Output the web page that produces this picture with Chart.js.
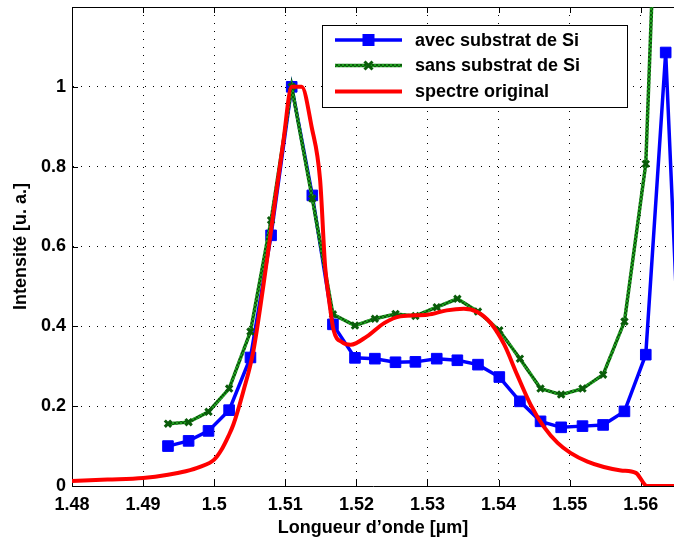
<!DOCTYPE html>
<html>
<head>
<meta charset="utf-8">
<script src="https://cdn.jsdelivr.net/npm/chart.js@4.4.1/dist/chart.umd.min.js"></script>
<style>
  html, body { margin: 0; padding: 0; background: #fff; overflow: hidden; }
  canvas { display: block; }
</style>
</head>
<body>
<canvas id="c" width="674" height="538"></canvas>
<script>
// ---- data ----
const wavelengths = [1.4935, 1.4964, 1.4992, 1.5021, 1.5051, 1.5080, 1.5109, 1.5138, 1.5167, 1.5198,
                     1.5226, 1.5255, 1.5283, 1.5313, 1.5342, 1.5371, 1.5401, 1.5430, 1.5459, 1.5488,
                     1.5518, 1.5547, 1.5577, 1.5607, 1.5635, 1.5665];
const avecSubstrat = [0.100, 0.113, 0.138, 0.190, 0.322, 0.628, 1.000, 0.728, 0.405, 0.321,
                      0.319, 0.310, 0.311, 0.319, 0.315, 0.304, 0.273, 0.212, 0.162, 0.147,
                      0.150, 0.153, 0.187, 0.329, 1.086, -0.13];
const sansSubstrat = [0.156, 0.160, 0.186, 0.244, 0.387, 0.666, 1.000, 0.720, 0.430, 0.402,
                      0.419, 0.431, 0.426, 0.448, 0.469, 0.437, 0.390, 0.319, 0.244, 0.229,
                      0.244, 0.279, 0.412, 0.807, 2.15];
const spectreX = [1.480, 1.485, 1.490, 1.4935, 1.496, 1.498, 1.500, 1.501, 1.502, 1.5027,
                  1.5041, 1.5055, 1.5069, 1.5083, 1.5097, 1.5109, 1.5123, 1.5137, 1.5149, 1.5156,
                  1.5162, 1.5168, 1.518, 1.5192, 1.5215, 1.5239, 1.5262, 1.530, 1.5327, 1.5351,
                  1.537, 1.5389, 1.5408, 1.5426, 1.5445, 1.5464, 1.5483, 1.5501, 1.5525, 1.5548,
                  1.5572, 1.5593, 1.5609, 1.5647];
const spectreY = [0.0125, 0.016, 0.020, 0.028, 0.037, 0.048, 0.066, 0.090, 0.125, 0.154,
                  0.2375, 0.3375, 0.50, 0.68, 0.86, 1.0, 1.0, 0.90, 0.766, 0.55,
                  0.46, 0.39, 0.36, 0.354, 0.375, 0.408, 0.425, 0.429, 0.440, 0.444,
                  0.436, 0.408, 0.354, 0.279, 0.204, 0.1475, 0.108, 0.083, 0.061, 0.0475,
                  0.039, 0.033, 0.0, 0.0];
const seriesLabels = ['avec substrat de Si', 'sans substrat de Si', 'spectre original'];
const xMin = 1.48, xMax = 1.56467, xStep = 0.01;
const yMin = 0, yMax = 1.2, yStep = 0.2;

// ---- styles ----
const FONT = '"Liberation Sans", Arial, Helvetica, sans-serif';
const BLUE = '#0000ff', RED = '#ff0000', DKGREEN = '#0a5c0a';
function greenPattern() {
  const p = document.createElement('canvas');
  p.width = 4; p.height = 4;
  const g = p.getContext('2d');
  g.fillStyle = '#1e9e1e'; g.fillRect(0, 0, 4, 4);
  g.fillStyle = '#0b5a0b';
  g.fillRect(0, 0, 2, 2); g.fillRect(2, 2, 2, 2);
  return document.getElementById('c').getContext('2d').createPattern(p, 'repeat');
}
const GREEN_PAT = greenPattern();

const frameTicks = {
  id: 'frameTicks',
  beforeDatasetsDraw(chart) {
    const {ctx, chartArea: a, scales} = chart;
    ctx.save();
    ctx.strokeStyle = '#000';
    ctx.lineWidth = 1;
    ctx.beginPath();
    ctx.moveTo(a.left, a.top + 0.5); ctx.lineTo(a.right, a.top + 0.5);
    const tl = 6;
    scales.x.ticks.forEach(t => {
      const px = Math.round(scales.x.getPixelForValue(t.value)) + 0.5;
      ctx.moveTo(px, a.bottom); ctx.lineTo(px, a.bottom - tl);
      ctx.moveTo(px, a.top); ctx.lineTo(px, a.top + tl);
    });
    scales.y.ticks.forEach(t => {
      const py = Math.round(scales.y.getPixelForValue(t.value)) + 0.5;
      ctx.moveTo(a.left, py); ctx.lineTo(a.left + tl, py);
    });
    ctx.stroke();
    ctx.restore();
  }
};

const boxLegend = {
  id: 'boxLegend',
  afterDraw(chart) {
    const ctx = chart.ctx;
    const bx = 322, by = 25, bw = 305, bh = 82;
    ctx.save();
    ctx.fillStyle = '#fff';
    ctx.fillRect(bx, by, bw, bh);
    ctx.strokeStyle = '#000';
    ctx.lineWidth = 1;
    ctx.strokeRect(bx + 0.5, by + 0.5, bw, bh);
    const rows = [40, 65.5, 91.5];
    const x1 = 335, x2 = 402, xm = (x1 + x2) / 2;
    const order = chart.data.datasets.slice().sort((p, q) => p.legendRank - q.legendRank);
    order.forEach((ds, i) => {
      const y = rows[i];
      ctx.strokeStyle = ds.borderColor;
      ctx.lineWidth = ds.borderWidth;
      ctx.beginPath(); ctx.moveTo(x1, y); ctx.lineTo(x2, y); ctx.stroke();
      if (ds.pointStyle === 'rect') {
        ctx.fillStyle = ds.pointBackgroundColor;
        ctx.fillRect(xm - 6, y - 6, 12, 12);
      } else if (ds.pointStyle === 'crossRot') {
        ctx.strokeStyle = ds.pointBorderColor;
        ctx.lineWidth = ds.pointBorderWidth;
        const r = 4;
        ctx.beginPath();
        ctx.moveTo(xm - r, y - r); ctx.lineTo(xm + r, y + r);
        ctx.moveTo(xm - r, y + r); ctx.lineTo(xm + r, y - r);
        ctx.stroke();
      }
      ctx.fillStyle = '#000';
      ctx.font = 'bold 18px ' + FONT;
      ctx.textBaseline = 'middle';
      ctx.textAlign = 'left';
      ctx.fillText(ds.label, 415, y + 1);
    });
    ctx.restore();
  }
};

const tickFont = {family: FONT, size: 18, weight: 'bold'};

new Chart(document.getElementById('c'), {
  type: 'line',
  data: {
    datasets: [
      {
        label: seriesLabels[2], legendRank: 2, order: 0,
        data: spectreX.map((x, i) => ({x, y: spectreY[i]})),
        borderColor: RED, borderWidth: 4, pointRadius: 0,
        cubicInterpolationMode: 'monotone', fill: false
      },
      {
        label: seriesLabels[1], legendRank: 1, order: 1,
        data: sansSubstrat.map((y, i) => ({x: wavelengths[i], y})),
        borderColor: GREEN_PAT, borderWidth: 3.5, tension: 0, fill: false,
        pointStyle: 'crossRot', pointRadius: 4.5, pointBorderWidth: 3,
        pointBorderColor: DKGREEN, pointBackgroundColor: DKGREEN
      },
      {
        label: seriesLabels[0], legendRank: 0, order: 2,
        data: avecSubstrat.map((y, i) => ({x: wavelengths[i], y})),
        borderColor: BLUE, borderWidth: 3.5, tension: 0, fill: false,
        pointStyle: 'rect', pointRadius: 7.5, pointBorderWidth: 1,
        pointBorderColor: BLUE, pointBackgroundColor: BLUE
      }
    ]
  },
  options: {
    responsive: false,
    devicePixelRatio: 1,
    animation: false,
    events: [],
    layout: {autoPadding: false, padding: {top: 7, right: 0, left: 0, bottom: 0}},
    plugins: {legend: {display: false}, tooltip: {enabled: false}},
    scales: {
      x: {
        type: 'linear', min: xMin, max: xMax,
        afterFit: s => { s.height = 52; s.paddingLeft = 0; s.paddingRight = 0; },
        ticks: {
          stepSize: xStep, includeBounds: false, autoSkip: false, maxRotation: 0,
          color: '#000', font: tickFont, padding: 8,
          callback: v => Number(v.toFixed(2)).toString()
        },
        grid: {color: '#000', lineWidth: 1, drawTicks: false},
        border: {display: true, color: '#000', width: 1, dash: [1, 7]},
        title: {display: true, text: 'Longueur d\u2019onde [\u00b5m]', color: '#000',
                font: {family: FONT, size: 18, weight: 'bold', lineHeight: 1.0}, padding: {top: 0, bottom: 1}}
      },
      y: {
        type: 'linear', min: yMin, max: yMax,
        afterFit: s => { s.width = 72; s.paddingTop = 0; s.paddingBottom = 0; },
        ticks: {
          stepSize: yStep, autoSkip: false, color: '#000', font: tickFont, padding: 6,
          callback: v => (Math.abs(v - yMax) < 1e-9 ? null : Number(v.toFixed(1)).toString())
        },
        grid: {color: '#000', lineWidth: 1, drawTicks: false},
        border: {display: true, color: '#000', width: 1, dash: [1, 7]},
        title: {display: true, text: 'Intensit\u00e9 [u. a.]', color: '#000',
                font: {family: FONT, size: 18, weight: 'bold', lineHeight: 1.0}, padding: {top: 12, bottom: 0}}
      }
    }
  },
  plugins: [frameTicks, boxLegend]
});
</script>
</body>
</html>
